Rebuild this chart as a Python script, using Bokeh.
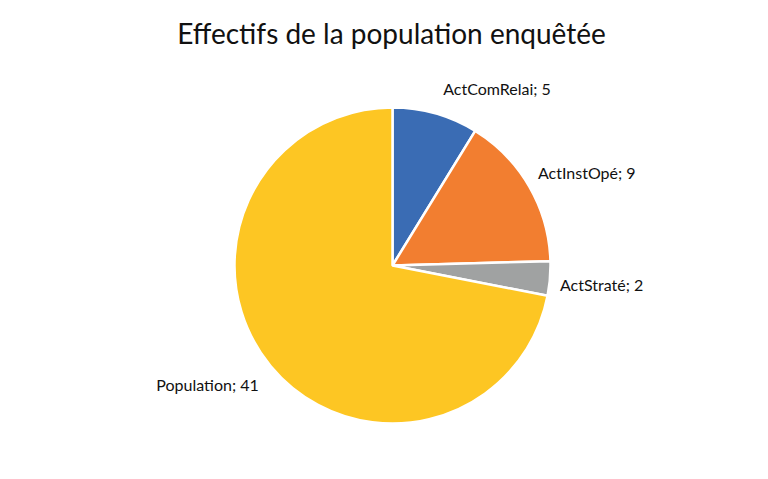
import numpy as np
from bokeh.plotting import figure
from bokeh.models import ColumnDataSource, Range1d, Label
from bokeh.embed import file_html
from bokeh.resources import INLINE
from bokeh.core.properties import value

# ---- data ----
categories = ["ActComRelai", "ActInstOpé", "ActStraté", "Population"]
counts = [5, 9, 2, 41]
colors = ["#3A6CB4", "#F27E30", "#A0A2A2", "#FDC623"]
title_text = "Effectifs de la population enquêtée"

# ---- layout / style ----
W, H = 752, 463
cx, cy, R = 392, 198, 158
label_r = R + 10
label_align = ["left", "left", "left", "right"]
label_dx = [5, 0, 0, -4]
label_dy = [-15, -9, 5, 12]

total = sum(counts)
fracs = np.array(counts, dtype=float) / total
ends = np.pi / 2 - 2 * np.pi * np.cumsum(fracs)
starts = np.concatenate([[np.pi / 2], ends[:-1]])
mids = (starts + ends) / 2

src = ColumnDataSource(dict(
    cat=categories, count=counts, color=colors,
    start=starts, end=ends,
    x=[cx] * len(counts), y=[cy] * len(counts),
    lx=cx + label_r * np.cos(mids), ly=cy + label_r * np.sin(mids),
    label=[f"{c}; {n}" for c, n in zip(categories, counts)],
    align=label_align, dx=label_dx, dy=label_dy,
))

p = figure(width=W, height=H, x_range=Range1d(0, W), y_range=Range1d(0, H),
           output_backend="svg", toolbar_location=None, min_border=0)
p.axis.visible = False
p.grid.visible = False
p.outline_line_color = None
p.background_fill_color = "white"

p.wedge(x="x", y="y", radius=R, start_angle="start", end_angle="end",
        direction="clock", fill_color="color", line_color="white",
        line_width=2.5, source=src)

p.text(x="lx", y="ly", text="label", text_align="align", text_baseline="middle",
       x_offset="dx", y_offset="dy", text_font=value("Lato"),
       text_font_size="16px", text_color="#111111", source=src)

p.add_layout(Label(x=391, y=431, text=title_text, text_align="center",
                   text_baseline="alphabetic", text_font="Lato",
                   text_font_size="28px", text_color="#111111"))

open("out.html", "w").write(file_html(p, INLINE))
